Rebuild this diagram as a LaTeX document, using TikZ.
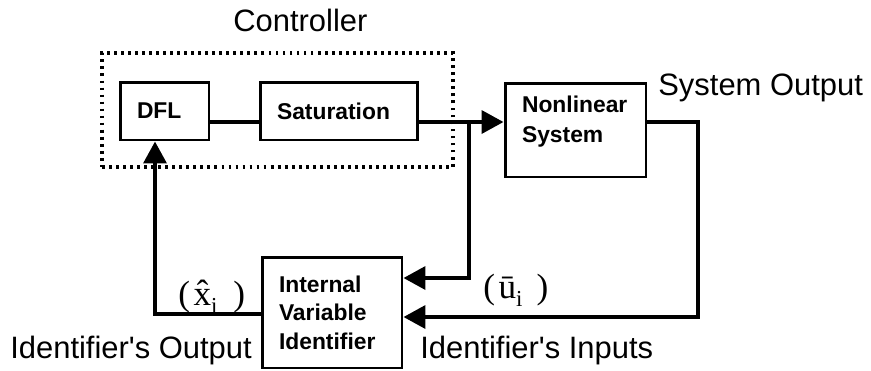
\documentclass[tikz,border=0pt]{standalone}
\usepackage{fontspec}
\setmainfont{Liberation Sans}
\newfontfamily\sigfont{Liberation Serif}
\usetikzlibrary{arrows.meta,positioning,calc}
\newcommand{\lowi}{\raisebox{-5pt}{\fontsize{13}{14}\selectfont i}}

\begin{document}
\begin{tikzpicture}[x=0.02cm, y=-0.02cm,
    block/.style={rectangle, draw=black, line width=1.7pt,
                  inner xsep=0.34cm, align=left,
                  font=\fontsize{13}{16.2}\selectfont\bfseries},
    ctrlbox/.style={rectangle, draw=black, line width=1.8pt,
                    dash pattern=on 1.6pt off 2.4pt},
    lab/.style={inner sep=0pt, font=\fontsize{17.6}{21}\selectfont},
    sig/.style={inner sep=0pt, font=\sigfont\fontsize{20}{24}\selectfont},
    wire/.style={line width=2.3pt, -{Triangle[length=12.5pt, width=13pt]}},
    plain/.style={line width=2.3pt}
]
    \useasboundingbox (0,0) rectangle (871,370);

    % Controller
    \node[ctrlbox, minimum width=7.02cm, minimum height=2.28cm] (ctrl) at (277.5,110) {};
    \node[lab, anchor=base west] (ctrlname) at (233,31) {Controller};
    \node[block, text width=1.10cm, minimum height=1.16cm] (dfl) at (164.5,111) {DFL};
    \node[block, text width=2.48cm, minimum height=1.16cm] (sat) at (339,111) {Saturation};

    % Plant and identifier
    \node[block, text width=2.14cm, minimum height=1.88cm, text depth=1.03cm,
          font=\fontsize{13}{17}\selectfont\bfseries] (sys) at (575.5,130) {Nonlinear\\System};
    \node[block, text width=2.12cm, minimum height=2.22cm] (idf) at (332,312.5)
        {Internal\\Variable\\Identifier};

    % Helper rows
    \coordinate (mid) at (0,122);
    \coordinate (br) at (469,122);
    \coordinate (sysout) at (698,122);
    \coordinate (inA) at (0,278);
    \coordinate (inB) at (0,317);
    \coordinate (up) at (155,314);

    % Connections
    \draw[plain] (dfl.east |- mid) -- (sat.west |- mid);
    \draw[wire] (sat.east |- mid) -- (sys.west |- mid);
    \draw[wire] (br) |- (idf.east |- inA);
    \draw[wire] (sys.east |- mid) -- (sysout) |- (idf.east |- inB);
    \draw[wire] (idf.west |- up) -- (up) -- (dfl.south -| up);

    % Signal names
    \node[lab, anchor=base west] (sysname) at (658,95) {System Output};
    \node[lab, anchor=base west] (outname) at (10,358) {Identifier\textquotesingle s Output};
    \node[lab, anchor=base west] (inname) at (420,358) {Identifier\textquotesingle s Inputs};
    \node[sig, anchor=base west] (xhat) at (178,305) {(\kern2pt\^{x}\lowi\kern9pt)};
    \node[sig, anchor=base west] (ubar) at (483,298) {(\kern2pt\={u}\lowi\kern8pt)};
\end{tikzpicture}
\end{document}
